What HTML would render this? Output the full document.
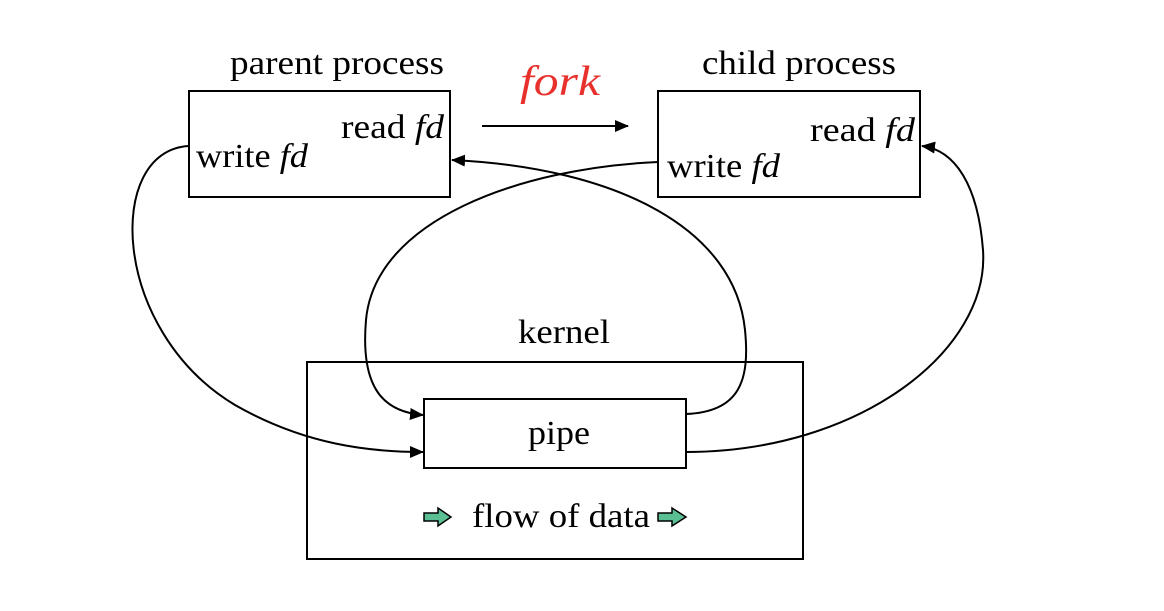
<!DOCTYPE html>
<html><head><style>
html,body{margin:0;padding:0;background:#fff;}
svg text{font-family:"Liberation Serif",serif;}
</style></head><body>
<svg width="1164" height="606" viewBox="0 0 1164 606" xmlns="http://www.w3.org/2000/svg">
<defs>
<marker id="a" markerWidth="14" markerHeight="12" refX="13" refY="6" orient="auto" markerUnits="userSpaceOnUse">
<path d="M0,0 L14,6 L0,12 Z" fill="#000"/>
</marker>
</defs>
<g fill="none" stroke="#000" stroke-width="2">
<rect x="189" y="91" width="261" height="106"/>
<rect x="658" y="91" width="262" height="106"/>
<rect x="307" y="362" width="496" height="197"/>
<rect x="424" y="399" width="262" height="69"/>
<line x1="482" y1="126" x2="628" y2="126" marker-end="url(#a)"/>
<path d="M189,146 C105,150 110,330 235,405 C305,445 370,452 423,452" marker-end="url(#a)"/>
<path d="M658,162 C520,168 375,220 366,320 C360,390 385,412 423,415" marker-end="url(#a)"/>
<path d="M686,414 C740,412 750,380 745,330 C735,230 620,168 452,160" marker-end="url(#a)"/>
<path d="M686,452 C860,452 990,350 983,250 C978,185 955,150 922,146" marker-end="url(#a)"/>
</g>
<g font-size="34" fill="#000" lengthAdjust="spacingAndGlyphs">
<text x="230" y="74" textLength="214" lengthAdjust="spacingAndGlyphs">parent process</text>
<text x="702" y="74" textLength="194" lengthAdjust="spacingAndGlyphs">child process</text>
<text x="341" y="138" textLength="103" lengthAdjust="spacingAndGlyphs">read <tspan font-style="italic">fd</tspan></text>
<text x="196" y="167" textLength="112" lengthAdjust="spacingAndGlyphs">write <tspan font-style="italic">fd</tspan></text>
<text x="810" y="141" textLength="105" lengthAdjust="spacingAndGlyphs">read <tspan font-style="italic">fd</tspan></text>
<text x="667" y="177" textLength="113" lengthAdjust="spacingAndGlyphs">write <tspan font-style="italic">fd</tspan></text>
<text x="518" y="343" textLength="92" lengthAdjust="spacingAndGlyphs">kernel</text>
<text x="528" y="444" textLength="62" lengthAdjust="spacingAndGlyphs">pipe</text>
<text x="472" y="527" textLength="178" lengthAdjust="spacingAndGlyphs">flow of data</text>
</g>
<text x="520" y="95" font-size="42" font-style="italic" fill="#e8302c" textLength="80" lengthAdjust="spacingAndGlyphs">fork</text>
<g fill="#5bbf94" stroke="#000" stroke-width="1.5">
<path d="M424,513 L438,513 L438,508 L451,517 L438,526 L438,521 L424,521 Z"/>
<path d="M658,513 L672,513 L672,508 L686,517 L672,526 L672,521 L658,521 Z"/>
</g>
</svg>
</body></html>
